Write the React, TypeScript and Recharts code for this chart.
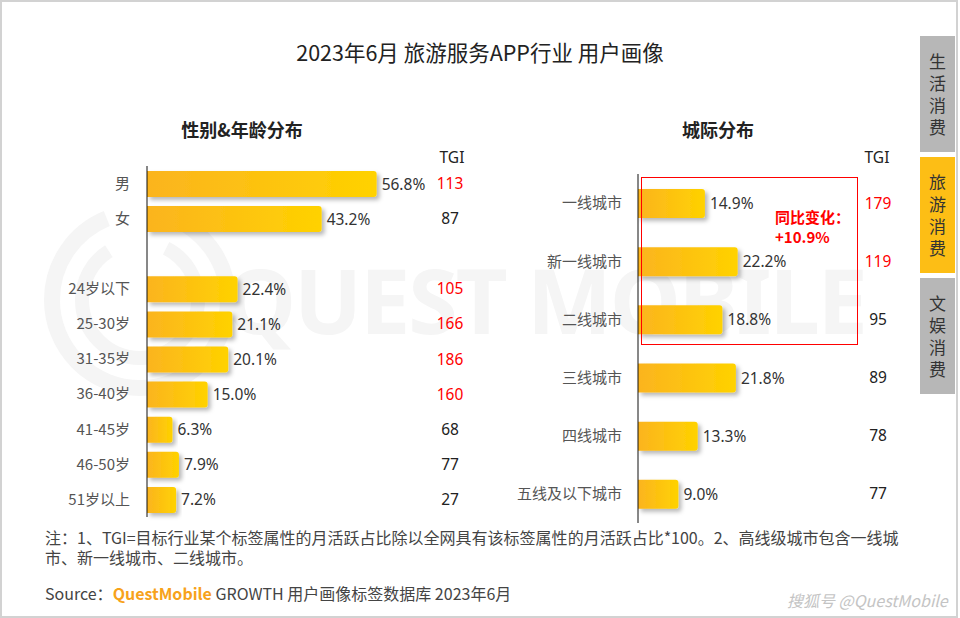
import { BarChart, Bar, XAxis, YAxis, LabelList } from "recharts";

const ageNames = ["男", "女", " ", "24岁以下", "25-30岁", "31-35岁", "36-40岁", "41-45岁", "46-50岁", "51岁以上"];
const ageValues = [56.8, 43.2, null, 22.4, 21.1, 20.1, 15.0, 6.3, 7.9, 7.2];
const ageTgi = [113, 87, null, 105, 166, 186, 160, 68, 77, 27];

const cityNames = ["一线城市", "新一线城市", "二线城市", "三线城市", "四线城市", "五线及以下城市"];
const cityValues = [14.9, 22.2, 18.8, 21.8, 13.3, 9.0];
const cityTgi = [179, 119, 95, 89, 78, 77];

const tabs = ["生活消费", "旅游消费", "文娱消费"];

const ageData = ageNames.map((name, i) => ({ name, value: ageValues[i], tgi: ageTgi[i] }));
const cityData = cityNames.map((name, i) => ({ name, value: cityValues[i], tgi: cityTgi[i] }));

const FONT = '"Noto Sans CJK SC", "Noto Sans", sans-serif';
const NUM_FONT = '"Noto Sans", "Noto Sans CJK SC", sans-serif';

function Defs({ id }: { id: string }) {
  return (
    <defs>
      <linearGradient id={`grad-${id}`} x1="0" y1="0" x2="1" y2="0">
        <stop offset="0%" stopColor="#FBB41F" />
        <stop offset="100%" stopColor="#FFD200" />
      </linearGradient>
      <filter id={`shadow-${id}`} x="-10%" y="-30%" width="130%" height="180%">
        <feDropShadow dx="3" dy="3" stdDeviation="2" floodColor="#000" floodOpacity="0.28" />
      </filter>
    </defs>
  );
}

function tgiTick(data: { name: string; tgi: number | null }[]) {
  return (props: any) => {
    const row = data.find((d) => d.name === props.payload.value);
    if (!row || row.tgi == null) return <g />;
    return (
      <text
        x={props.x + 20}
        y={props.y}
        dy="0.355em"
        textAnchor="middle"
        fontSize={15.5}
        fontFamily={NUM_FONT}
        fill={row.tgi >= 100 ? "#FF0000" : "#222"}
      >
        {row.tgi}
      </text>
    );
  };
}

const pctFormat = (v: any) => (v == null ? "" : `${Number(v).toFixed(1)}%`);

function AgeChart() {
  return (
    <BarChart
      width={480}
      height={380}
      data={ageData}
      layout="vertical"
      margin={{ top: 16, right: 10, bottom: 13, left: 0 }}
      barCategoryGap={0}
    >
      <Defs id="age" />
      <XAxis type="number" domain={[0, 70]} hide />
      <YAxis
        yAxisId="left"
        type="category"
        dataKey="name"
        width={147}
        axisLine={{ stroke: "#111" }}
        tickLine={false}
        tickSize={0}
        tickMargin={17}
        tick={{ fill: "#555", fontSize: 15, fontFamily: FONT }}
      />
      <YAxis
        yAxisId="tgi"
        orientation="right"
        type="category"
        dataKey="name"
        width={40}
        axisLine={false}
        tickLine={false}
        tickSize={0}
        tickMargin={0}
        tick={tgiTick(ageData)}
      />
      <Bar
        yAxisId="left"
        dataKey="value"
        barSize={26}
        fill="url(#grad-age)"
        radius={[0, 3, 3, 0]}
        filter="url(#shadow-age)"
        isAnimationActive={false}
      >
        <LabelList
          dataKey="value"
          position="right"
          offset={5}
          formatter={pctFormat}
          fill="#333"
          fontSize={15.5}
          fontFamily={NUM_FONT}
        />
      </Bar>
    </BarChart>
  );
}

function CityChart() {
  return (
    <BarChart
      width={430}
      height={380}
      data={cityData}
      layout="vertical"
      margin={{ top: 24, right: 12, bottom: 7, left: 0 }}
      barCategoryGap={0}
    >
      <Defs id="city" />
      <XAxis type="number" domain={[0, 49]} hide />
      <YAxis
        yAxisId="left"
        type="category"
        dataKey="name"
        width={158}
        axisLine={{ stroke: "#111" }}
        tickLine={false}
        tickSize={0}
        tickMargin={16}
        tick={{ fill: "#555", fontSize: 15, fontFamily: FONT }}
      />
      <YAxis
        yAxisId="tgi"
        orientation="right"
        type="category"
        dataKey="name"
        width={40}
        axisLine={false}
        tickLine={false}
        tickSize={0}
        tickMargin={0}
        tick={tgiTick(cityData)}
      />
      <Bar
        yAxisId="left"
        dataKey="value"
        barSize={29}
        fill="url(#grad-city)"
        radius={[0, 3, 3, 0]}
        filter="url(#shadow-city)"
        isAnimationActive={false}
      >
        <LabelList
          dataKey="value"
          position="right"
          offset={5}
          formatter={pctFormat}
          fill="#333"
          fontSize={15.5}
          fontFamily={NUM_FONT}
        />
      </Bar>
    </BarChart>
  );
}

const abs = (s: React.CSSProperties): React.CSSProperties => ({ position: "absolute", ...s });

export default function App() {
  return (
    <div
      style={{
        position: "absolute",
        left: 0,
        top: 0,
        width: 960,
        height: 618,
        background: "#fff",
        fontFamily: FONT,
        overflow: "hidden",
      }}
    >
      <div style={abs({ left: 0, top: 0, width: 958, height: 618, border: "2px solid #d2d2d2", boxSizing: "border-box" })} />

      {/* watermark */}
      <svg width={960} height={618} style={abs({ left: 0, top: 0 })}>
        <circle cx={140} cy={300} r={88} fill="none" stroke="#f5f5f5" strokeWidth={16} strokeDasharray="380 60" />
        <circle cx={140} cy={300} r={58} fill="none" stroke="#f5f5f5" strokeWidth={14} strokeDasharray="240 60" />
        <text x={225} y={334} fontSize={90} fontWeight={700} fill="#f5f5f5" fontFamily={NUM_FONT} textLength={643} lengthAdjust="spacing">
          QUEST MOBILE
        </text>
      </svg>

      <div style={abs({ left: 0, top: 38, width: 960, textAlign: "center", fontSize: 21.5, lineHeight: "28px", color: "#222" })}>
        2023年6月 旅游服务APP行业 用户画像
      </div>
      <div style={abs({ left: 142, top: 116, width: 200, textAlign: "center", fontSize: 18, fontWeight: 700, lineHeight: "26px", color: "#222" })}>
        性别&amp;年龄分布
      </div>
      <div style={abs({ left: 618, top: 116, width: 200, textAlign: "center", fontSize: 18, fontWeight: 700, lineHeight: "26px", color: "#222" })}>
        城际分布
      </div>
      <div style={abs({ left: 422, top: 146, width: 60, textAlign: "center", fontSize: 15.5, lineHeight: "22px", color: "#222", fontFamily: NUM_FONT })}>
        TGI
      </div>
      <div style={abs({ left: 847, top: 146, width: 60, textAlign: "center", fontSize: 15.5, lineHeight: "22px", color: "#222", fontFamily: NUM_FONT })}>
        TGI
      </div>

      <div style={abs({ left: 0, top: 150 })}>
        <AgeChart />
      </div>
      <div style={abs({ left: 480, top: 150 })}>
        <CityChart />
      </div>

      {/* highlight box */}
      <div style={abs({ left: 641, top: 177, width: 217, height: 168, border: "1px solid #FF0000", boxSizing: "border-box" })} />
      <div style={abs({ left: 775, top: 207, fontSize: 15, lineHeight: "20px", color: "#FF0000", fontWeight: 700 })}>
        同比变化：
        <br />
        +10.9%
      </div>

      {/* side tabs */}
      {tabs.map((t, i) => (
        <div
          key={t}
          style={abs({
            left: 920,
            top: 36 + i * 121,
            width: 35,
            height: 116,
            background: i === 1 ? "#FDBE15" : "#B7B7B7",
            color: "#333",
            fontSize: 17,
            lineHeight: "22px",
            display: "flex",
            flexDirection: "column",
            alignItems: "center",
            justifyContent: "center",
          })}
        >
          {t.split("").map((c, j) => (
            <span key={j}>{c}</span>
          ))}
        </div>
      ))}

      <div style={abs({ left: 45, top: 527, width: 880, fontSize: 16, lineHeight: "20px", color: "#444", whiteSpace: "nowrap" })}>
        注：1、TGI=目标行业某个标签属性的月活跃占比除以全网具有该标签属性的月活跃占比*100。2、高线级城市包含一线城
        <br />
        市、新一线城市、二线城市。
      </div>
      <div style={abs({ left: 45, top: 582, fontSize: 16, lineHeight: "22px", color: "#444", whiteSpace: "nowrap" })}>
        Source：<span style={{ color: "#F7A21B", fontWeight: 600 }}>QuestMobile</span> GROWTH 用户画像标签数据库 2023年6月
      </div>
      <div style={abs({ left: 787, top: 589, fontSize: 16, lineHeight: "22px", color: "#c4c4c4", fontStyle: "italic", fontFamily: FONT, whiteSpace: "nowrap" })}>
        搜狐号 @QuestMobile
      </div>
    </div>
  );
}
